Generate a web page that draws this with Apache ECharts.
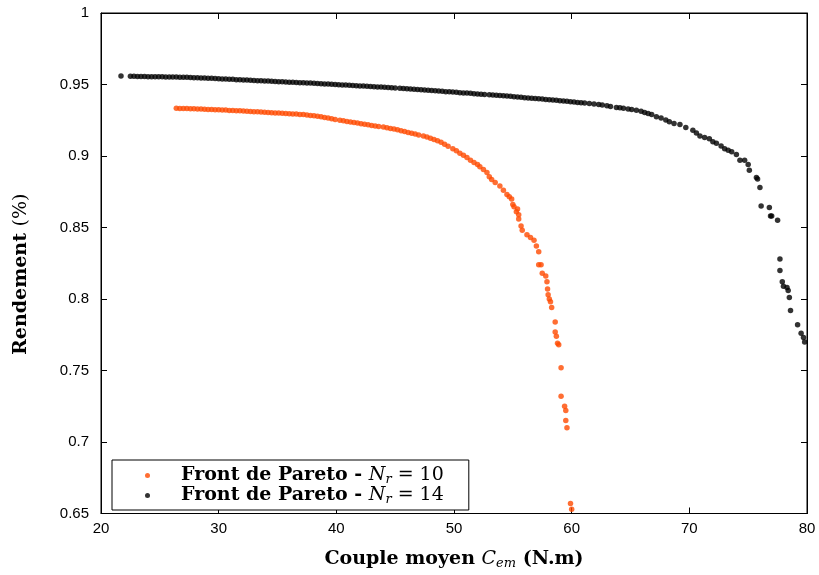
<!DOCTYPE html>
<html>
<head>
<meta charset="utf-8">
<script src="https://cdn.jsdelivr.net/npm/echarts@6/dist/echarts.min.js"></script>
<style>html,body{margin:0;padding:0;background:#fff}#c{width:819px;height:575px}</style>
</head>
<body>
<div id="c"></div>
<script>
const seriesNames = ['Front de Pareto - Nr = 10', 'Front de Pareto - Nr = 14'];
const xTicks = [20, 30, 40, 50, 60, 70, 80];
const yTicks = [0.65, 0.7, 0.75, 0.8, 0.85, 0.9, 0.95, 1];

// Pareto front, Nr = 10 (orange) : [couple moyen, rendement]
const frontNr10 = [
[26.4,.9334],[26.7,.9333],[27.0,.9332],[27.3,.9332],[27.6,.9331],[27.9,.9330],[28.2,.9329],[28.5,.9328],[28.8,.9327],[29.1,.9326],
[29.4,.9325],[29.7,.9324],[30.0,.9323],[30.3,.9322],[30.6,.9321],[30.9,.9319],[31.2,.9318],[31.5,.9317],[31.8,.9316],[32.1,.9314],
[32.4,.9313],[32.7,.9311],[33.0,.9310],[33.3,.9309],[33.6,.9307],[33.9,.9306],[34.2,.9304],[34.5,.9303],[34.8,.9301],[35.1,.9300],
[35.4,.9299],[35.7,.9297],[36.0,.9296],[36.3,.9294],[36.6,.9293],[36.9,.9291],[37.2,.9290],[37.5,.9287],[37.8,.9284],[38.1,.9281],
[38.4,.9278],[38.7,.9274],[39.0,.9270],[39.3,.9266],[39.6,.9261],[39.9,.9256],[40.3,.9250],[40.6,.9246],[40.9,.9242],[41.2,.9238],
[41.5,.9234],[41.8,.9230],[42.1,.9226],[42.4,.9222],[42.7,.9218],[43.0,.9214],[43.3,.9210],[43.6,.9206],[44.0,.9202],[44.3,.9198],
[44.6,.9193],[44.9,.9188],[45.2,.9183],[45.5,.9177],[45.8,.9171],[46.1,.9165],[46.4,.9159],[46.7,.9153],[47.0,.9146],[47.4,.9140],
[47.7,.9132],[48.0,.9124],[48.3,.9115],[48.6,.9106],[48.9,.9096],[49.2,.9082],[49.5,.9068],[49.9,.9050],[50.2,.9036],[50.5,.9020],
[50.8,.9005],[51.1,.8990],[51.4,.8970],[51.7,.8955],[52.0,.8940],[52.2,.8925],[52.5,.8905],[52.8,.8885],[53.0,.8855],[53.2,.8835],
[53.5,.8815],[53.9,.8790],[54.2,.8760],[54.5,.8730],[54.7,.8715],[54.9,.8700],[55.0,.8660],[55.1,.8645],[55.3,.8610],[55.4,.8630],
[55.5,.8590],[55.5,.8560],[55.7,.8510],[55.8,.8480],[56.2,.8450],[56.5,.8430],[56.8,.8410],[57.0,.8370],[57.2,.8330],[57.2,.8240],
[57.4,.8240],[57.5,.8180],[57.8,.8160],[57.9,.8120],[57.95,.8070],[58.0,.8030],[58.1,.8000],[58.2,.7980],[58.3,.7940],[58.6,.7840],
[58.6,.7770],[58.7,.7740],[58.8,.7690],[58.9,.7680],[59.1,.7520],[59.1,.7320],[59.4,.7250],[59.5,.7220],[59.5,.7150],[59.6,.7100],
[59.9,.6570],[60.0,.6530]
];

// Pareto front, Nr = 14 (black) : [couple moyen, rendement]
const frontNr14 = [
[21.7,.9560],
[22.5,.9557],[22.8,.9557],[23.1,.9556],[23.4,.9556],[23.7,.9556],[24.0,.9555],[24.3,.9555],[24.6,.9555],[24.9,.9554],[25.2,.9554],
[25.5,.9553],[25.8,.9553],[26.1,.9552],[26.4,.9552],[26.7,.9551],[27.0,.9550],[27.3,.9550],[27.6,.9549],[27.9,.9548],[28.2,.9547],
[28.5,.9546],[28.8,.9545],[29.1,.9544],[29.4,.9543],[29.7,.9542],[30.0,.9540],[30.3,.9539],[30.6,.9538],[30.9,.9537],[31.2,.9536],
[31.5,.9534],[31.8,.9533],[32.1,.9532],[32.4,.9531],[32.7,.9530],[33.0,.9528],[33.3,.9527],[33.6,.9526],[33.9,.9525],[34.2,.9524],
[34.5,.9522],[34.8,.9521],[35.1,.9520],[35.4,.9519],[35.7,.9518],[36.0,.9516],[36.3,.9515],[36.6,.9514],[36.9,.9513],[37.2,.9512],
[37.5,.9511],[37.8,.9510],[38.1,.9508],[38.4,.9507],[38.7,.9506],[39.0,.9504],[39.3,.9503],[39.6,.9501],[39.9,.9500],[40.2,.9499],
[40.5,.9497],[40.8,.9496],[41.1,.9494],[41.4,.9493],[41.7,.9492],[42.0,.9490],[42.3,.9489],[42.6,.9487],[42.9,.9486],[43.2,.9484],
[43.5,.9483],[43.8,.9482],[44.1,.9480],[44.4,.9479],[44.7,.9477],[45.0,.9476],[45.4,.9474],[45.7,.9472],[46.0,.9470],[46.3,.9468],
[46.6,.9467],[46.9,.9465],[47.2,.9463],[47.5,.9461],[47.8,.9459],[48.1,.9458],[48.4,.9456],[48.7,.9454],[49.0,.9452],[49.3,.9450],
[49.6,.9449],[49.9,.9447],[50.2,.9445],[50.5,.9443],[50.8,.9441],[51.1,.9440],[51.4,.9438],[51.7,.9436],[52.0,.9434],[52.3,.9432],
[52.6,.9430],[53.0,.9428],[53.3,.9426],[53.6,.9424],[53.9,.9423],[54.2,.9421],[54.5,.9419],[54.8,.9417],[55.1,.9415],[55.4,.9413],
[55.7,.9410],[56.0,.9408],[56.3,.9406],[56.6,.9404],[56.9,.9402],[57.2,.9400],[57.5,.9398],[57.8,.9395],[58.1,.9393],[58.4,.9391],
[58.7,.9389],[59.0,.9386],[59.3,.9384],[59.6,.9382],[59.9,.9379],[60.2,.9377],[60.5,.9375],[60.8,.9372],[61.1,.9370],[61.5,.9368],
[61.9,.9364],[62.3,.9360],[62.6,.9357],[63.0,.9352],[63.3,.9347],[63.8,.9340],[64.1,.9337],[64.4,.9334],[64.8,.9329],[65.1,.9325],
[65.5,.9320],[65.9,.9313],[66.2,.9305],[66.5,.9298],[66.8,.9290],[67.2,.9275],[67.6,.9265],[68.0,.9252],[68.3,.9240],[68.7,.9228],
[69.2,.9220],[69.7,.9200],[70.3,.9180],[70.6,.9160],[70.9,.9140],[71.3,.9130],[71.7,.9120],[72.0,.9100],[72.3,.9090],[72.7,.9070],
[73.0,.9050],[73.3,.9040],[73.6,.9030],[74.0,.9010],[74.3,.8970],[74.7,.8970],[75.0,.8940],[75.1,.8900],[75.7,.8850],[75.8,.8840],
[76.0,.8780],[76.1,.8650],[76.8,.8640],[76.9,.8580],[77.0,.8580],[77.5,.8550],[77.7,.8280],[77.7,.8200],[77.9,.8120],[78.0,.8090],
[78.3,.8080],[78.4,.8060],[78.5,.8010],[78.6,.7920],[79.2,.7820],[79.5,.7760],[79.7,.7730],[79.8,.7700]
];

const colors = ['#ff4a00', '#000000'];
const chart = echarts.init(document.getElementById('c'), null, {renderer: 'canvas'});
const tickFont = {fontFamily: 'Liberation Sans, Arial, sans-serif', fontSize: 15, color: '#000'};
const serif = 'DejaVu Serif, Liberation Serif, serif';

const option = {
  animation: false,
  backgroundColor: '#fff',
  grid: {left: 101, right: 12, top: 13, bottom: 56, show: true, borderColor: '#000', borderWidth: 1, containLabel: false},
  legend: {
    orient: 'vertical', left: 112, top: 460,
    backgroundColor: '#fff', borderColor: '#000', borderWidth: 1, borderRadius: 0,
    padding: [6, 25, 4, 33], itemGap: 0, itemWidth: 5, itemHeight: 5,
    data: seriesNames.map(function (n) { return {name: n, icon: 'circle'}; }),
    formatter: function (n) {
      const v = n.split('= ')[1];
      return '{b|Front de Pareto - }{i|N}{s|r}{n| = ' + v + '}';
    },
    textStyle: {
      color: '#000', padding: [0, 0, 0, 26],
      rich: {
        b: {fontFamily: serif, fontWeight: 'bold', fontSize: 19, color: '#000', height: 21},
        i: {fontFamily: serif, fontStyle: 'italic', fontSize: 19, color: '#000', height: 21},
        s: {fontFamily: serif, fontStyle: 'italic', fontSize: 13, color: '#000', height: 21, padding: [8, 0, 0, 0]},
        n: {fontFamily: serif, fontSize: 19, color: '#000', height: 21}
      }
    }
  },
  xAxis: [{
    type: 'value', min: xTicks[0], max: xTicks[xTicks.length - 1], interval: 10,
    name: '{b|Couple moyen }{i|C}{s|em}{b| (N.m)}', nameLocation: 'middle', nameGap: 31,
    nameTextStyle: {
      rich: {
        b: {fontFamily: serif, fontWeight: 'bold', fontSize: 19, color: '#000', height: 22},
        i: {fontFamily: serif, fontStyle: 'italic', fontSize: 19, color: '#000', height: 22},
        s: {fontFamily: serif, fontStyle: 'italic', fontSize: 13, color: '#000', height: 22, padding: [8, 0, 0, 0]}
      }
    },
    axisLine: {show: true, onZero: false, lineStyle: {color: '#000', width: 1}},
    axisTick: {show: true, inside: true, length: 6, lineStyle: {color: '#000'}},
    axisLabel: Object.assign({margin: 8}, tickFont),
    splitLine: {show: false}
  }, {
    type: 'value', position: 'top', min: xTicks[0], max: xTicks[xTicks.length - 1], interval: 10,
    axisLine: {show: true, onZero: false, lineStyle: {color: '#000'}},
    axisTick: {show: true, inside: true, length: 6, lineStyle: {color: '#000'}},
    axisLabel: {show: false}, splitLine: {show: false}
  }],
  yAxis: [{
    type: 'value', min: yTicks[0], max: yTicks[yTicks.length - 1], interval: 0.05,
    name: '{b|Rendement }{n|(%)}', nameLocation: 'middle', nameGap: 70, nameRotate: 90,
    nameTextStyle: {
      padding: [0, 22, 0, 0],
      rich: {
        b: {fontFamily: serif, fontWeight: 'bold', fontSize: 19, color: '#000'},
        n: {fontFamily: serif, fontSize: 19, color: '#000'}
      }
    },
    axisLine: {show: true, onZero: false, lineStyle: {color: '#000', width: 1}},
    axisTick: {show: true, inside: true, length: 6, lineStyle: {color: '#000'}},
    axisLabel: Object.assign({margin: 12}, tickFont),
    splitLine: {show: false}
  }, {
    type: 'value', position: 'right', min: yTicks[0], max: yTicks[yTicks.length - 1], interval: 0.05,
    axisLine: {show: true, onZero: false, lineStyle: {color: '#000'}},
    axisTick: {show: true, inside: true, length: 6, lineStyle: {color: '#000'}},
    axisLabel: {show: false}, splitLine: {show: false}
  }],
  series: [{
    name: seriesNames[0], type: 'scatter', data: frontNr10, symbol: 'circle', symbolSize: 5.5,
    itemStyle: {color: colors[0]}, xAxisIndex: 0, yAxisIndex: 0
  }, {
    name: seriesNames[1], type: 'scatter', data: frontNr14, symbol: 'circle', symbolSize: 5.5,
    itemStyle: {color: colors[1]}, xAxisIndex: 0, yAxisIndex: 0
  }]
};
chart.setOption(option);
</script>
</body>
</html>
